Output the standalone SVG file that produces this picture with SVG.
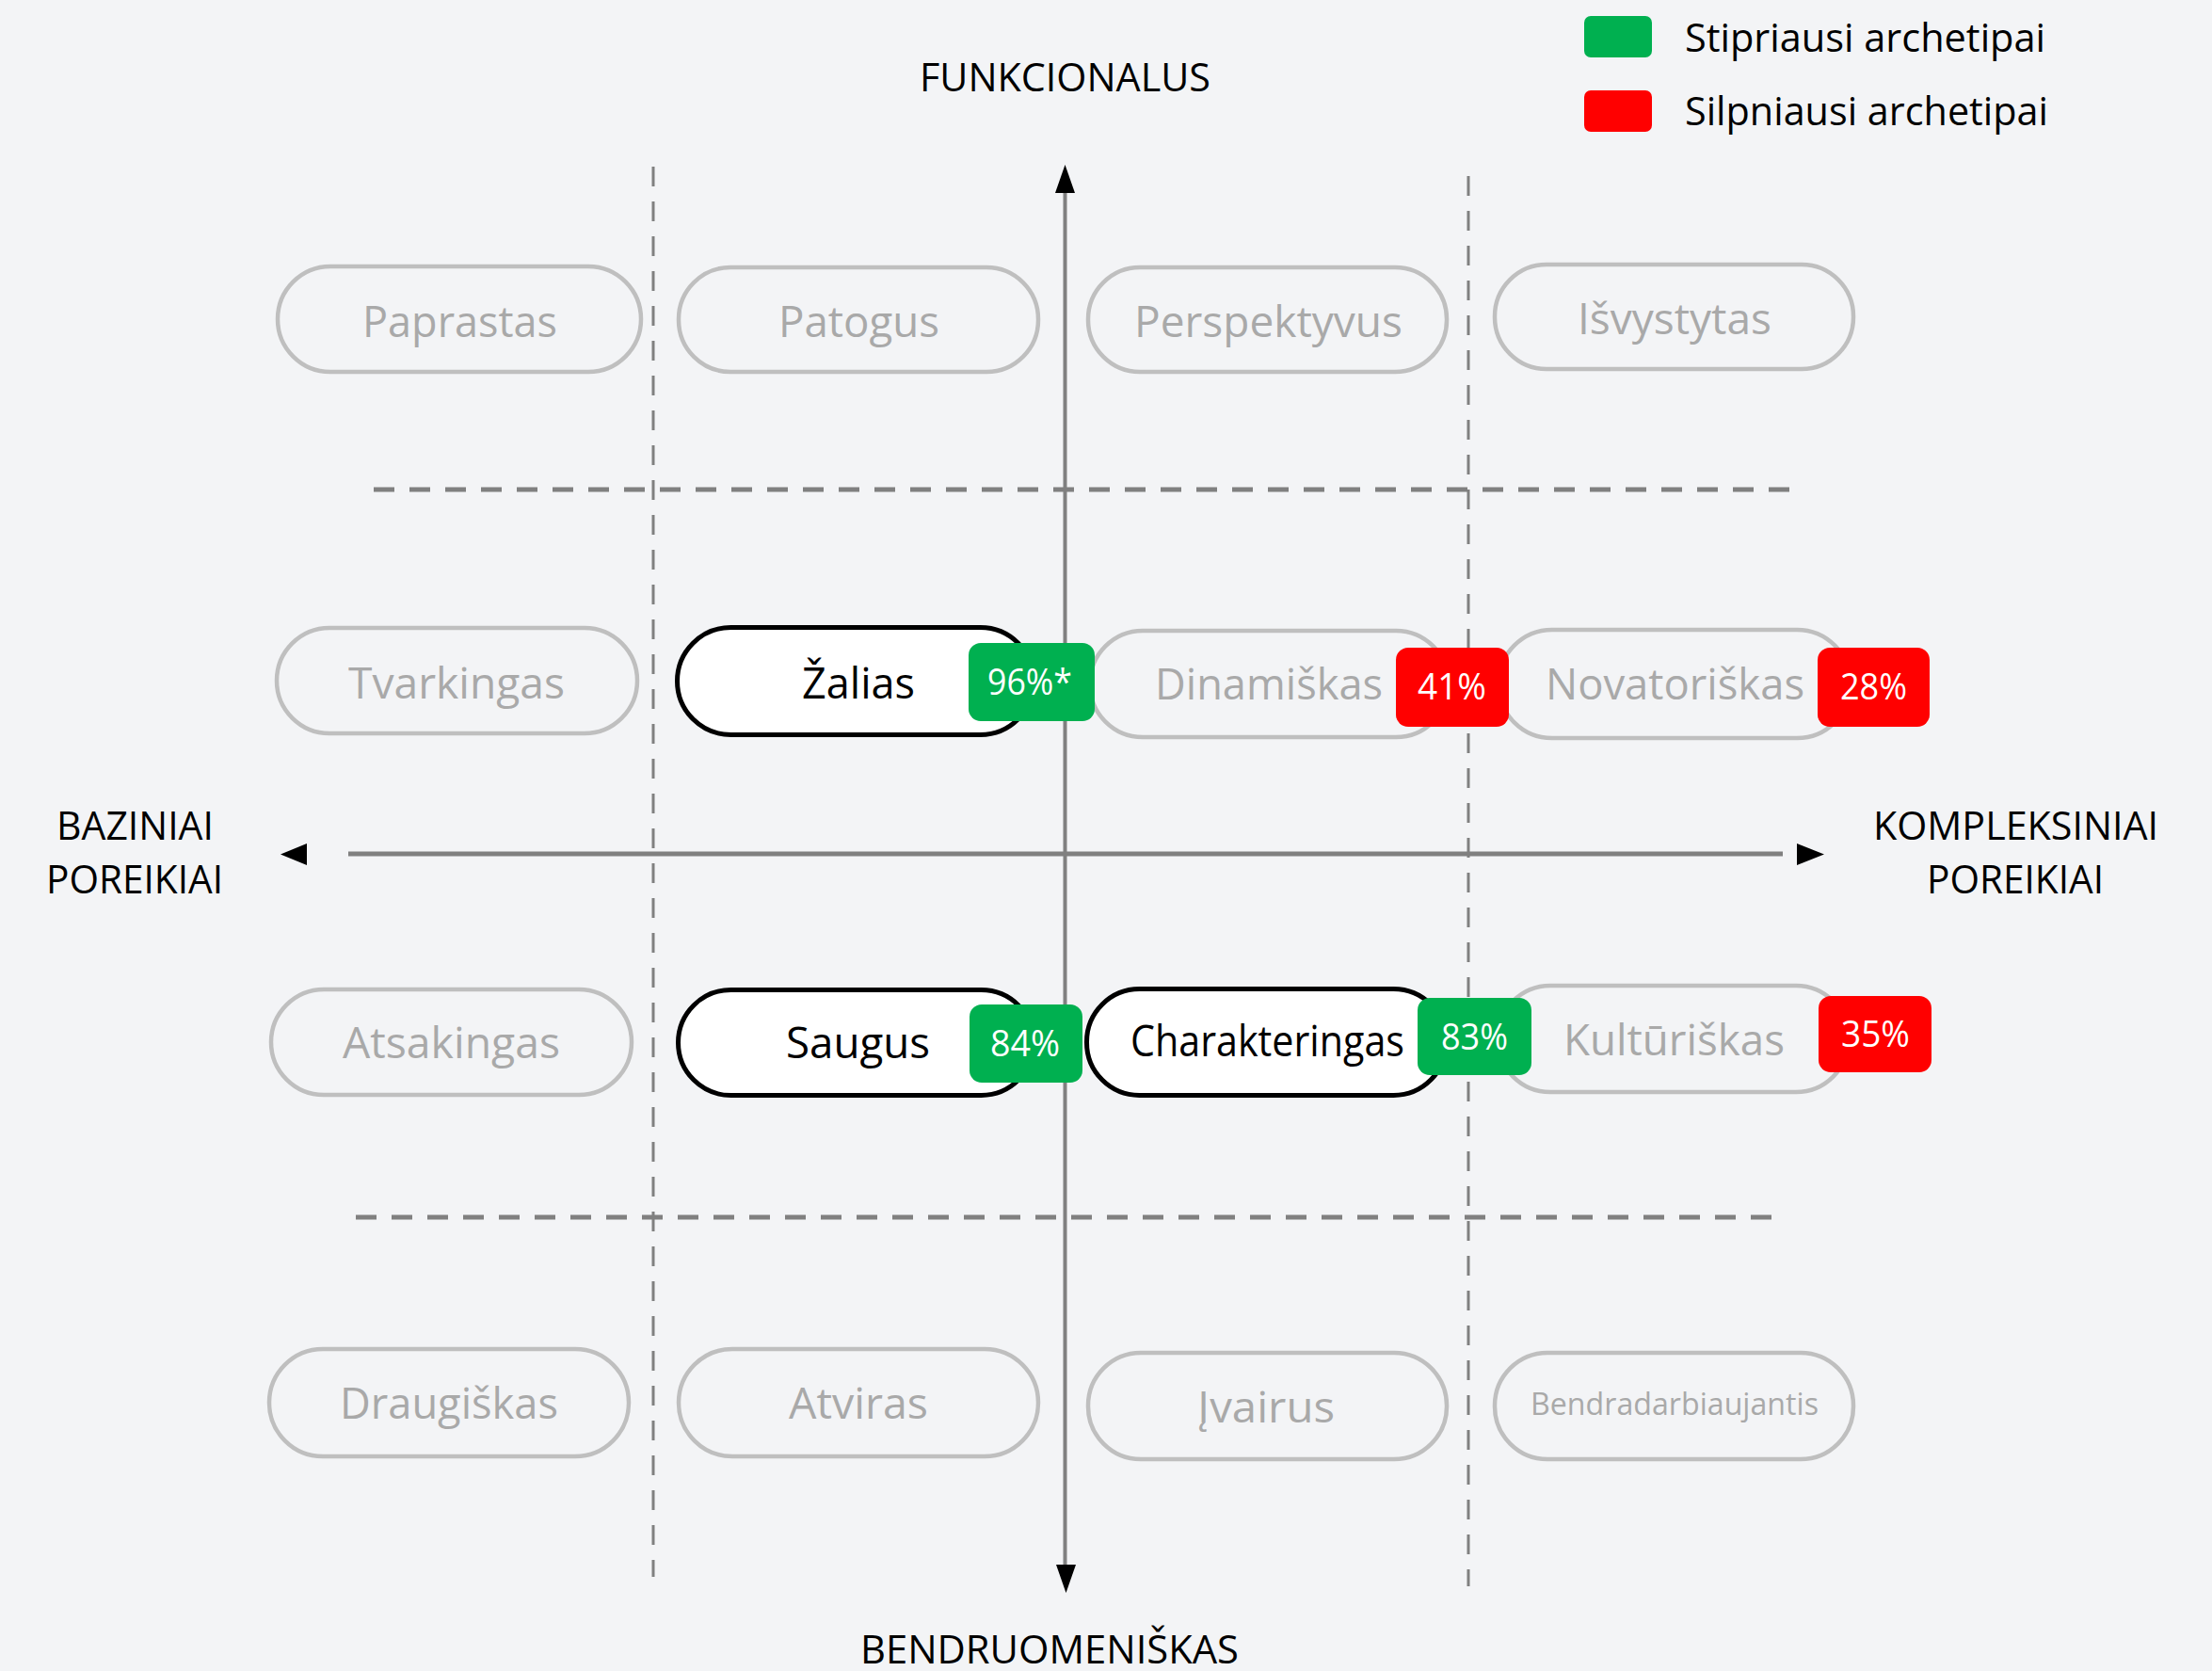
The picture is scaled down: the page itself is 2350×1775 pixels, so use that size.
<svg xmlns="http://www.w3.org/2000/svg" width="2350" height="1775" viewBox="0 0 2350 1775">
<style>
text{font-family:"Open Sans","Noto Sans","Liberation Sans",sans-serif}
.n{fill:#F3F4F6;stroke:#BFBFBF;stroke-width:4.5}
.a{fill:#FFFFFF;stroke:#000000;stroke-width:5}
.nt{font-size:46px;fill:#A9A9A9;text-anchor:middle}
.at{font-size:46px;fill:#000000;text-anchor:middle}
.b{font-size:38px;fill:#FFFFFF;text-anchor:middle}
.g{fill:#00B050}
.r{fill:#FF0000}
.ax{font-size:42px;fill:#000000;text-anchor:middle}
.lg{font-size:42px;fill:#000000}
.vd{stroke:#808080;stroke-width:3;stroke-dasharray:21 16;fill:none}
.hd{stroke:#808080;stroke-width:5;stroke-dasharray:22 16;fill:none}
.axl{stroke:#808080;fill:none}
</style>
<rect x="0" y="0" width="2350" height="1775" fill="#F3F4F6"/>

<g id="grid">
<line class="vd" x1="694" y1="177" x2="694" y2="1675"/>
<line class="vd" x1="1560" y1="187" x2="1560" y2="1685"/>
<line class="hd" x1="397" y1="520" x2="1912" y2="520"/>
<line class="hd" x1="378" y1="1293" x2="1892" y2="1293"/>
</g>

<g id="connectors">
<line class="axl" stroke-width="4" x1="1131.5" y1="204" x2="1131.5" y2="1663"/>
<polygon points="1131.5,175 1121,205 1142,205" fill="#000"/>
<polygon points="1122,1662 1143,1662 1132.5,1692" fill="#000"/>
<line class="axl" stroke-width="5" x1="370" y1="907" x2="1894" y2="907"/>
<polygon points="298,907.5 326,896 326,919" fill="#000"/>
<polygon points="1938,907.5 1909,896 1909,919" fill="#000"/>
</g>

<g id="labels">
<text class="ax" x="1131.5" y="97" textLength="309" lengthAdjust="spacingAndGlyphs">FUNKCIONALUS</text>
<text class="ax" x="1115" y="1767" textLength="402" lengthAdjust="spacingAndGlyphs">BENDRUOMENIŠKAS</text>
<text class="ax" x="143.5" y="892" textLength="167" lengthAdjust="spacingAndGlyphs">BAZINIAI</text>
<text class="ax" x="143" y="949" textLength="188" lengthAdjust="spacingAndGlyphs">POREIKIAI</text>
<text class="ax" x="2141.5" y="892" textLength="303" lengthAdjust="spacingAndGlyphs">KOMPLEKSINIAI</text>
<text class="ax" x="2141" y="949" textLength="188" lengthAdjust="spacingAndGlyphs">POREIKIAI</text>
</g>

<g id="legend">
<rect class="g" x="1683" y="17" width="72" height="44" rx="7"/>
<text class="lg" x="1790" y="55" textLength="383" lengthAdjust="spacingAndGlyphs">Stipriausi archetipai</text>
<rect class="r" x="1683" y="96" width="72" height="44" rx="7"/>
<text class="lg" x="1790" y="133" textLength="386" lengthAdjust="spacingAndGlyphs">Silpniausi archetipai</text>
</g>

<g id="node-paprastas">
<rect class="n" x="295" y="283" width="386" height="112" rx="56"/>
<text class="nt" x="488.5" y="358" textLength="207" lengthAdjust="spacingAndGlyphs">Paprastas</text>
</g>
<g id="node-patogus">
<rect class="n" x="721" y="284" width="382" height="111" rx="55"/>
<text class="nt" x="912.5" y="358" textLength="171" lengthAdjust="spacingAndGlyphs">Patogus</text>
</g>
<g id="node-perspektyvus">
<rect class="n" x="1156" y="284" width="381" height="111" rx="55"/>
<text class="nt" x="1347.5" y="358" textLength="285" lengthAdjust="spacingAndGlyphs">Perspektyvus</text>
</g>
<g id="node-isvystytas">
<rect class="n" x="1588" y="281" width="381" height="111" rx="55"/>
<text class="nt" x="1779" y="355" textLength="206" lengthAdjust="spacingAndGlyphs">Išvystytas</text>
</g>

<g id="node-novatoriskas">
<rect class="n" x="1592" y="669" width="374" height="115" rx="57"/>
<text class="nt" x="1779.5" y="743" textLength="275" lengthAdjust="spacingAndGlyphs">Novatoriškas</text>
<rect class="r" x="1931" y="688" width="119" height="84" rx="13"/>
<text class="b" x="1990.5" y="743" textLength="71" lengthAdjust="spacingAndGlyphs">28%</text>
</g>
<g id="node-dinamiskas">
<rect class="n" x="1158" y="670" width="381" height="113" rx="56"/>
<text class="nt" x="1348" y="743" textLength="242" lengthAdjust="spacingAndGlyphs">Dinamiškas</text>
<rect class="r" x="1483" y="688" width="120" height="84" rx="13"/>
<text class="b" x="1542.5" y="743" textLength="73" lengthAdjust="spacingAndGlyphs">41%</text>
</g>
<g id="node-zalias">
<rect class="a" x="719.5" y="666.5" width="379" height="114" rx="57"/>
<text class="at" x="912" y="742" textLength="120" lengthAdjust="spacingAndGlyphs">Žalias</text>
<rect class="g" x="1029" y="683" width="134" height="83" rx="13"/>
<text class="b" x="1094" y="738" textLength="90" lengthAdjust="spacingAndGlyphs">96%*</text>
</g>
<g id="node-tvarkingas">
<rect class="n" x="294" y="667" width="383" height="112" rx="56"/>
<text class="nt" x="485" y="742" textLength="230" lengthAdjust="spacingAndGlyphs">Tvarkingas</text>
</g>

<g id="node-kulturiskas">
<rect class="n" x="1591" y="1047" width="373" height="113" rx="56"/>
<text class="nt" x="1778.5" y="1121" textLength="235" lengthAdjust="spacingAndGlyphs">Kultūriškas</text>
<rect class="r" x="1932" y="1058" width="120" height="81" rx="13"/>
<text class="b" x="1992.5" y="1112" textLength="73" lengthAdjust="spacingAndGlyphs">35%</text>
</g>
<g id="node-charakteringas">
<rect class="a" x="1154.5" y="1050.5" width="382" height="113" rx="56"/>
<text class="at" x="1346.5" y="1122" textLength="291" lengthAdjust="spacingAndGlyphs">Charakteringas</text>
<rect class="g" x="1506" y="1060" width="121" height="82" rx="13"/>
<text class="b" x="1566.5" y="1115" textLength="71" lengthAdjust="spacingAndGlyphs">83%</text>
</g>
<g id="node-saugus">
<rect class="a" x="720.5" y="1051.5" width="378" height="112" rx="56"/>
<text class="at" x="911.5" y="1124" textLength="153" lengthAdjust="spacingAndGlyphs">Saugus</text>
<rect class="g" x="1030" y="1067" width="120" height="83" rx="13"/>
<text class="b" x="1089" y="1122" textLength="74" lengthAdjust="spacingAndGlyphs">84%</text>
</g>
<g id="node-atsakingas">
<rect class="n" x="288" y="1051" width="383" height="112" rx="56"/>
<text class="nt" x="479.5" y="1124" textLength="231" lengthAdjust="spacingAndGlyphs">Atsakingas</text>
</g>

<g id="node-draugiskas">
<rect class="n" x="286" y="1433" width="382" height="114" rx="57"/>
<text class="nt" x="477" y="1507" textLength="232" lengthAdjust="spacingAndGlyphs">Draugiškas</text>
</g>
<g id="node-atviras">
<rect class="n" x="721" y="1433" width="382" height="114" rx="57"/>
<text class="nt" x="912" y="1507" textLength="148" lengthAdjust="spacingAndGlyphs">Atviras</text>
</g>
<g id="node-ivairus">
<rect class="n" x="1156" y="1437" width="381" height="113" rx="56"/>
<text class="nt" x="1345" y="1511" textLength="146" lengthAdjust="spacingAndGlyphs">Įvairus</text>
</g>
<g id="node-bendradarbiaujantis">
<rect class="n" x="1588" y="1437" width="381" height="113" rx="56"/>
<text class="nt" x="1779" y="1503" style="font-size:32px" textLength="306" lengthAdjust="spacingAndGlyphs">Bendradarbiaujantis</text>
</g>
</svg>
